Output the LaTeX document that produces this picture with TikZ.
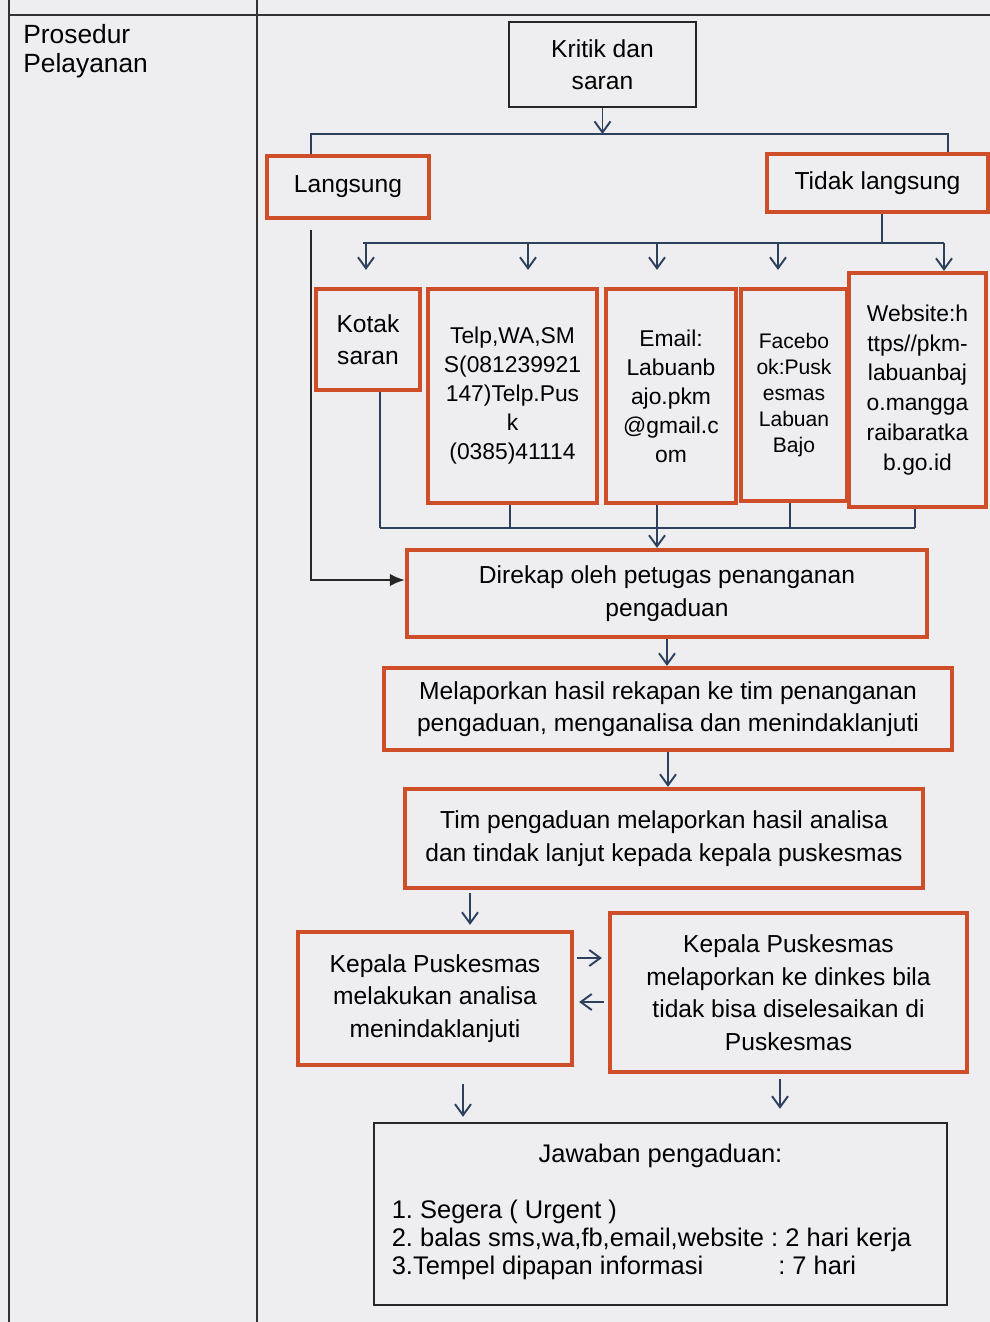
\documentclass[tikz,border=0pt]{standalone}
\usepackage{fontspec}
\setmainfont{Liberation Sans}
\usetikzlibrary{arrows.meta,positioning}
\definecolor{boxred}{RGB}{205,78,40}
\definecolor{linkblue}{RGB}{45,65,95}
\definecolor{paper}{RGB}{238,237,240}
\tikzset{
    redbox/.style={draw=boxred, line width=2.4pt, align=center, inner sep=2pt},
    blackbox/.style={draw=black!85, line width=1.4pt, align=center, inner sep=2pt},
    sz/.style 2 args={minimum width=#1*0.02cm, minimum height=#2*0.02cm},
    bline/.style={draw=linkblue, line width=1.1pt},
    barrow/.style={bline, -{Straight Barb[length=0.22cm,width=0.32cm]}},
    karrow/.style={draw=black!85, line width=1.3pt, -{Latex[length=0.3cm,width=0.25cm]}},
    grid line/.style={draw=black!80, line width=1.2pt}
}

\begin{document}
\frenchspacing
\begin{tikzpicture}[x=0.02cm, y=0.02cm, font=\fontsize{14}{18.5}\selectfont]
    \fill[paper] (0,0) rectangle (990,-1322);
    \useasboundingbox (0,0) rectangle (990,-1322);

    % table frame
    \draw[grid line] (9,0) -- (9,-1322);
    \draw[grid line] (257,0) -- (257,-1322);
    \draw[grid line] (9,-15) -- (990,-15);
    \node[anchor=north west, align=left, inner sep=0pt, font=\fontsize{15}{16.5}\selectfont] (judul) at (23,-24) {Prosedur\\Pelayanan};

    % boxes
    \node[blackbox, sz={187}{85}] (kritik) at (602.5,-64.5) {Kritik dan\\saran};
    \node[redbox, sz={162}{62}] (langsung) at (348,-187) {Langsung};
    \node[redbox, sz={221}{58}] (tidak) at (877.5,-183) {Tidak langsung};

    \node[redbox, sz={104}{101}] (kotak) at (368,-339.5) {Kotak\\saran};
    \node[redbox, sz={169}{214}, font=\fontsize{13}{16.5}\selectfont] (telp) at (512.5,-396)
        {Telp,WA,SM\\S(081239921\\147)Telp.Pus\\k\\(0385)41114};
    \node[redbox, sz={130}{214}, font=\fontsize{13}{16.5}\selectfont] (email) at (671,-396)
        {Email:\\Labuanb\\ajo.pkm\\@gmail.c\\om};
    \node[redbox, sz={106}{212}, font=\fontsize{12}{14.8}\selectfont] (fb) at (794,-395)
        {Facebo\\ok:Pusk\\esmas\\Labuan\\Bajo};
    \node[redbox, sz={137}{234}, font=\fontsize{13}{17}\selectfont] (web) at (917.5,-390)
        {Website:h\\ttps//pkm-\\labuanbaj\\o.mangga\\raibaratka\\b.go.id};

    \node[redbox, sz={520}{87}] (direkap) at (667,-593.5) {Direkap oleh petugas penanganan\\pengaduan};
    \node[redbox, sz={568}{82}] (lapor) at (668,-709) {Melaporkan hasil rekapan ke tim penanganan\\pengaduan, menganalisa dan menindaklanjuti};
    \node[redbox, sz={518}{99}] (tim) at (664,-838.5) {Tim pengaduan melaporkan hasil analisa\\dan tindak lanjut kepada kepala puskesmas};
    \node[redbox, sz={274}{133}] (kpl) at (435,-998.5) {Kepala Puskesmas\\melakukan analisa\\menindaklanjuti};
    \node[redbox, sz={357}{159}] (kpr) at (788.5,-992.5) {Kepala Puskesmas\\melaporkan ke dinkes bila\\tidak bisa diselesaikan di\\Puskesmas};

    \node[blackbox, sz={573}{182}] (jawab) at (660.5,-1214) {%
        \begin{minipage}{10.75cm}\fontsize{14.5}{16.2}\selectfont
        \centering Jawaban pengaduan:\par\vspace{16pt}\raggedright
        \begin{tabular}{@{}l@{}l@{}}
        1. Segera ( Urgent ) & \\
        2. balas sms,wa,fb,email,website & \ : 2 hari kerja\\
        3.Tempel dipapan informasi & \ \ : 7 hari
        \end{tabular}
        \end{minipage}};

    % kritik -> langsung / tidak langsung
    \coordinate (busa) at (606,-134);
    \coordinate (busl) at (311,-134);
    \coordinate (busr) at (948,-134);
    \draw[barrow] (kritik) -- (kritik |- busa);
    \draw[bline] (busl |- langsung.north) -- (busl) -- (busr) -- (busr |- tidak.north);

    % tidak langsung -> channels
    \coordinate (busb) at (882,-243);
    \coordinate (busbl) at (363,-243);
    \coordinate (busbr) at (944,-243);
    \draw[bline] (tidak.south -| busb) -- (busb);
    \draw[bline] (busbl) -- (busbr);
    \foreach \xx/\nd in {366/kotak,528/telp,657/email,778/fb}{
        \coordinate (tip) at (\xx,-243);
        \draw[barrow, shorten >=0.34cm] (tip) -- (tip |- \nd.north);
    }
    \draw[barrow] (busbr) -- (busbr |- web.north);

    % channels -> direkap
    \coordinate (busc) at (657,-528);
    \coordinate (buscl) at (380,-528);
    \coordinate (buscr) at (915,-528);
    \foreach \xx/\nd in {380/kotak,510/telp,790/fb,915/web}{
        \coordinate (bot) at (\xx,-528);
        \draw[bline] (bot |- \nd.south) -- (bot);
    }
    \draw[bline] (buscl) -- (buscr);
    \draw[barrow] (busc |- email.south) -- (busc |- direkap.north);

    % langsung -> direkap
    \coordinate (lgs) at (311,-230);
    \coordinate (lgc) at (311,-580);
    \draw[karrow] (lgs) -- (lgc) -- (lgc -| direkap.west);

    % main chain
    \draw[barrow] (direkap) -- (direkap |- lapor.north);
    \draw[barrow] (lapor) -- (lapor |- tim.north);
    \coordinate (tk) at (470,-893);
    \draw[barrow, shorten >=0.1cm] (tk) -- (tk |- kpl.north);

    \coordinate (ra) at (0,-958);
    \coordinate (la) at (0,-1002);
    \draw[barrow, shorten <=0.06cm, shorten >=0.12cm] (kpl.east |- ra) -- (kpr.west |- ra);
    \draw[barrow, shorten <=0.08cm, shorten >=0.1cm] (kpr.west |- la) -- (kpl.east |- la);

    \coordinate (dl) at (463,0);
    \coordinate (dr) at (780,0);
    \draw[barrow, shorten <=0.34cm, shorten >=0.1cm] (kpl.south -| dl) -- (jawab.north -| dl);
    \draw[barrow, shorten <=0.1cm, shorten >=0.26cm] (kpr.south -| dr) -- (jawab.north -| dr);
\end{tikzpicture}
\end{document}
